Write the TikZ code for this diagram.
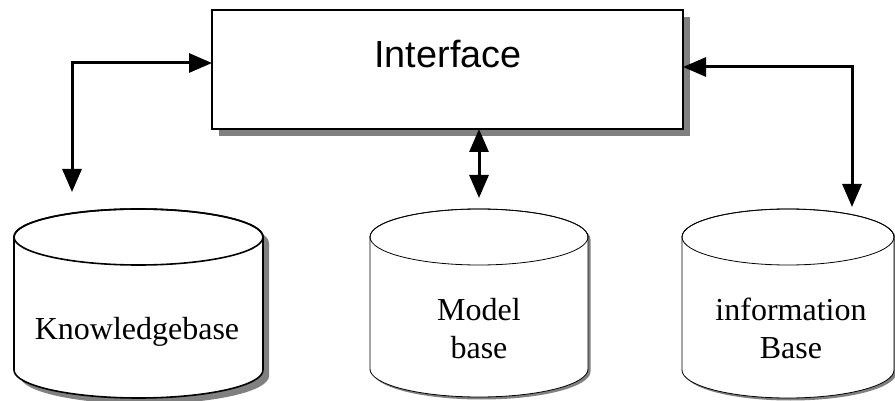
\documentclass[tikz,border=0pt]{standalone}
\usepackage{fontspec}
\setmainfont{Liberation Serif}
\newfontfamily\ifacefont{Liberation Sans}
\usetikzlibrary{arrows.meta}
\definecolor{shadowgray}{HTML}{808080}
\newcommand\mycyl[6]{% #1 cx, #2 top centre y, #3 rx, #4 height, #5 shadow offset, #6 line width
\begin{scope}[shift={(#1,#2)}]
 \fill[shadowgray] (-#3+#5,-#5) -- (-#3+#5,-#4-#5) arc[start angle=180,end angle=360,x radius=#3,y radius=28] -- (#3+#5,-#5) arc[start angle=0,end angle=180,x radius=#3,y radius=28] -- cycle;
 \filldraw[fill=white,line width=#6] (-#3,0) -- (-#3,-#4) arc[start angle=180,end angle=360,x radius=#3,y radius=28] -- (#3,0) arc[start angle=0,end angle=180,x radius=#3,y radius=28] -- cycle;
 \draw[line width=#6] (0,0) ellipse[x radius=#3,y radius=28];
\end{scope}}
\begin{document}
\begin{tikzpicture}[x=1pt,y=1pt,
  ifacebox/.style={draw,line width=2pt,fill=white,minimum width=471pt,minimum height=119pt,inner sep=0pt,outer sep=0pt},
  dbtext/.style={font=\fontsize{32}{38}\selectfont,align=center,inner sep=0pt},
  conn/.style={line width=3pt,>={Triangle[length=23pt,width=19pt]},<->}]
\useasboundingbox (0,0) rectangle (895,-401);
% interface box with shadow
\fill[shadowgray] (219,-17) rectangle (690,-136);
\node[ifacebox] (iface) at (447.5,-69.5) {};
\node[font=\ifacefont\fontsize{37.8}{44}\selectfont,anchor=base,inner sep=0pt] (ilabel) at (448,-68) {Interface};
% cylinders
\mycyl{138.5}{-237}{124.5}{133}{6}{1.6pt}
\mycyl{479}{-237}{109}{132}{2.5}{0.8pt}
\mycyl{788}{-237}{106}{133}{2.5}{0.8pt}
\node[dbtext,anchor=base] (kb) at (137,-339) {Knowledgebase};
\node[dbtext] (mb) at (479,-329) {Model\\base};
\node[dbtext] (ib) at (791,-328) {information\\Base};
% connectors
\coordinate (ktip) at (72,-192);
\coordinate (mtip) at (479,-198);
\coordinate (itip) at (852,-207);
\draw[conn] (ktip) |- ([yshift=6.5pt]iface.west);
\draw[conn] ([yshift=2.5pt]iface.east) -| (itip);
\draw[conn] (iface.south -| mtip) -- (mtip);
\end{tikzpicture}
\end{document}
